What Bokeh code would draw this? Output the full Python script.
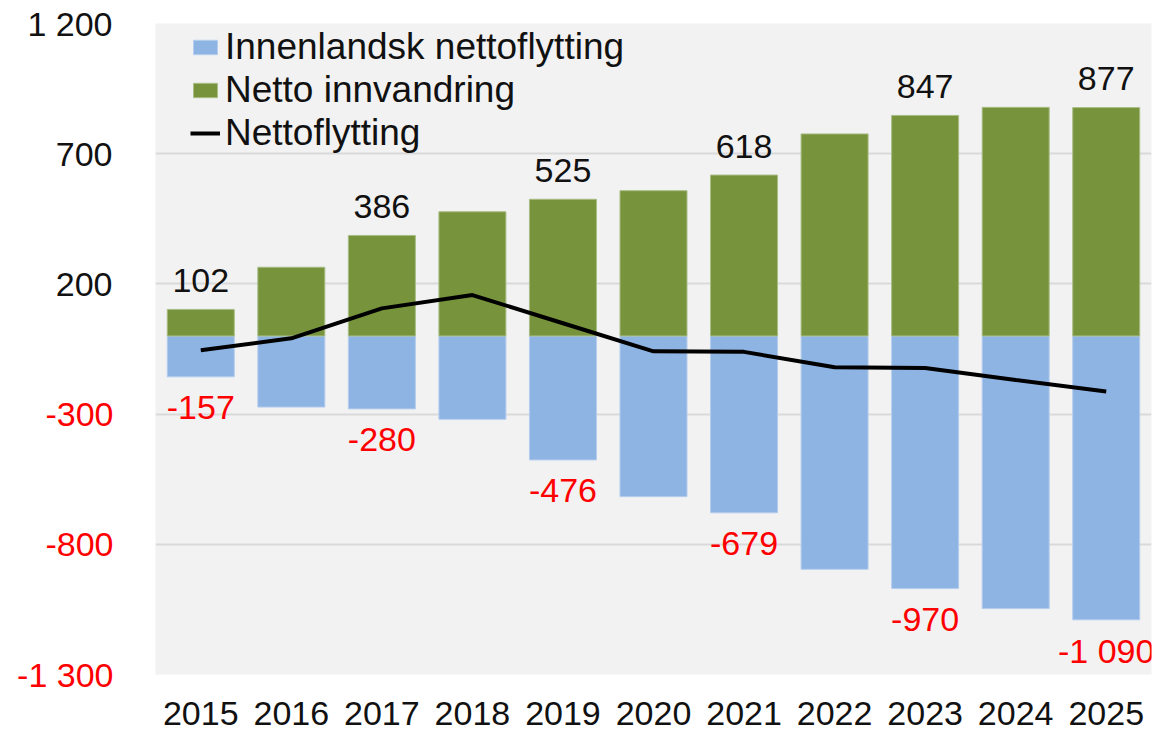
from bokeh.plotting import figure
from bokeh.models import (ColumnDataSource, Range1d, FactorRange, FixedTicker,
                          Legend, LegendItem, LinearAxis)
from bokeh.embed import file_html
from bokeh.resources import INLINE
from bokeh.core.properties import value

years = ["2015", "2016", "2017", "2018", "2019", "2020", "2021", "2022", "2023", "2024", "2025"]
innenlandsk = [-157, -273, -280, -320, -476, -617, -679, -896, -970, -1047, -1090]
innvandring = [102, 264, 386, 477, 525, 558, 618, 776, 847, 878, 877]
nettoflytting = [-55, -9, 106, 157, 49, -59, -61, -120, -123, -169, -213]
label_years = ["2015", "2017", "2019", "2021", "2023", "2025"]
y_ticks = [-1300, -800, -300, 200, 700, 1200]
Y0, Y1 = -1300, 1200

FONT = "Liberation Sans"
FS = 34


def fmt(v):
    return f"{v:,}".replace(",", " ")


W, H = 1153, 738
TOP, BOTTOM = 23, 64
X_STANDOFF = 27
FRAME_H = H - TOP - (X_STANDOFF + 39)
STANDOFF = 43

p = figure(x_range=FactorRange(*years, range_padding=0),
           y_range=Range1d(Y0, Y1),
           width=W, height=H, output_backend="svg", toolbar_location=None,
           min_border_left=155, min_border_right=2, min_border_top=TOP,
           min_border_bottom=BOTTOM)
p.background_fill_color = "#f2f2f2"
p.border_fill_color = "white"
p.outline_line_color = None

src = ColumnDataSource(dict(year=years, inn=innenlandsk, imm=innvandring, net=nettoflytting))
blue = p.vbar(x="year", top=0, bottom="inn", width=0.74, source=src,
              fill_color="#8eb4e3", line_color="#b5cdee", line_width=1)
green = p.vbar(x="year", bottom=0, top="imm", width=0.74, source=src,
               fill_color="#77933c", line_color="#a9bd85", line_width=1)
line = p.line(x="year", y="net", source=src, line_color="black", line_width=4)

idx = [years.index(y) for y in label_years]
gsrc = ColumnDataSource(dict(x=[years[i] for i in idx], y=[innvandring[i] for i in idx],
                             t=[fmt(innvandring[i]) for i in idx]))
rsrc = ColumnDataSource(dict(x=[years[i] for i in idx], y=[innenlandsk[i] for i in idx],
                             t=[fmt(innenlandsk[i]) for i in idx]))
p.text(x="x", y="y", text="t", source=gsrc, text_align="center", text_baseline="alphabetic",
       y_offset=-29, text_font=value(FONT), text_font_size=f"{FS}px", text_color="#111111")
p.text(x="x", y="y", text="t", source=rsrc, text_align="center", text_baseline="alphabetic",
       y_offset=31, text_font=value(FONT), text_font_size=f"{FS}px", text_color="#ff0000")


def style_axis(ax, color, standoff):
    ax.ticker = FixedTicker(ticks=y_ticks)
    ax.major_label_text_font = FONT
    ax.major_label_text_font_size = f"{FS}px"
    ax.major_label_text_color = color
    ax.major_label_standoff = standoff
    ax.major_tick_out = 0
    ax.major_tick_in = 0
    ax.axis_line_color = None
    ax.major_tick_line_color = None
    ax.minor_tick_line_color = None


# inner axis: positive tick labels in black
yax = p.yaxis[0]
style_axis(yax, "#111111", STANDOFF)
yax.major_label_overrides = {t: (fmt(t) if t > 0 else "") for t in y_ticks}
# outer axis: negative tick labels in red, pulled back over the inner axis
inner_label_w = round(FS * 2.502) + 4  # width of "1 200" plus measuring slack
red_ax = LinearAxis()
style_axis(red_ax, "#ff0000", -inner_label_w)
red_ax.major_label_overrides = {t: (fmt(t) if t < 0 else "") for t in y_ticks}
p.add_layout(red_ax, "left")

p.xaxis.major_label_text_font = FONT
p.xaxis.major_label_text_font_size = f"{FS}px"
p.xaxis.major_label_text_color = "#111111"
p.xaxis.major_label_standoff = X_STANDOFF
p.xaxis.major_tick_out = 0
p.xaxis.major_tick_in = 0
p.xaxis.axis_line_color = None
p.xaxis.major_tick_line_color = None
p.xaxis.minor_tick_line_color = None

p.xgrid.grid_line_color = None
p.ygrid.ticker = FixedTicker(ticks=y_ticks)
p.ygrid.grid_line_color = "#d9d9d9"
p.ygrid.grid_line_width = 2

legend = Legend(items=[LegendItem(label="Innenlandsk nettoflytting", renderers=[blue]),
                       LegendItem(label="Netto innvandring", renderers=[green]),
                       LegendItem(label="Nettoflytting", renderers=[line])],
                location=(35, FRAME_H - 3 * 43), padding=0, margin=0, spacing=0,
                label_height=43, glyph_height=18, glyph_width=30, label_standoff=5,
                background_fill_alpha=0, border_line_alpha=0,
                label_text_font=FONT, label_text_font_size="37px",
                label_text_color="#111111")
p.add_layout(legend)

open("out.html", "w").write(file_html(p, INLINE))
